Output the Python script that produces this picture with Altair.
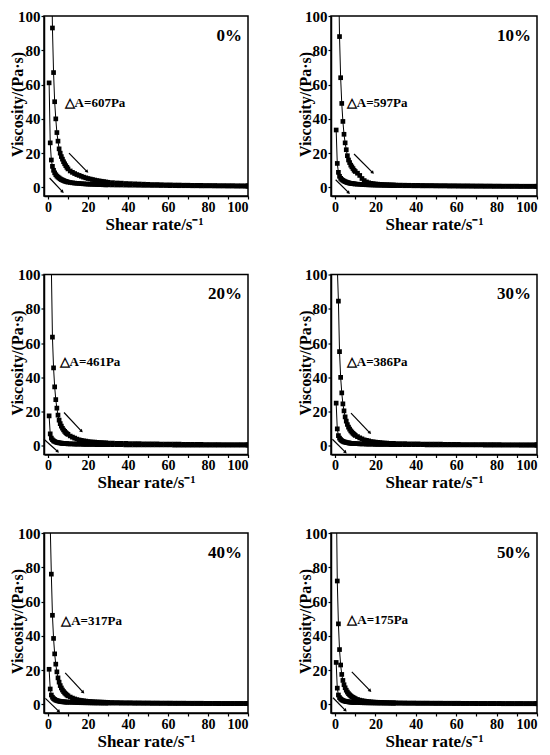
import altair as alt
import pandas as pd

# Shear-rate grid (s^-1) shared by every curve
X = [0.56, 1.11, 1.67, 2.22, 2.78, 3.33, 3.89, 4.44, 5.0, 5.56, 6.11, 6.67, 7.22, 7.78, 8.33, 8.89, 9.44, 10.0,
     11.11, 12.22, 13.33, 14.44, 15.56, 16.67, 17.78, 18.89, 20.0, 21.11, 22.22, 23.33, 24.44, 25.56, 26.67, 27.78, 28.89, 30.0,
     32.22, 34.44, 36.67, 38.89, 41.11, 43.33, 45.56, 47.78, 50.0, 52.22, 54.44, 56.67, 58.89, 61.11, 63.33, 65.56,
     67.78, 70.0, 72.22, 74.44, 76.67, 78.89, 81.11, 83.33, 85.56, 87.78, 90.0, 92.22, 94.44, 96.67, 98.89, 100.0]

UP_0 = [400, 250, 140, 93, 67, 50, 40, 32, 27, 22.5, 20, 18, 16.5, 15, 13.8, 12.7, 11.7, 10.8,
        9.6, 8.8, 8.1, 7.5, 7.0, 6.5, 6.0, 5.6, 5.2, 4.9, 4.6, 4.3, 4.0, 3.8, 3.6, 3.4, 3.2, 3.0,
        2.8, 2.6, 2.5, 2.3, 2.2, 2.1, 2.0, 1.9, 1.8, 1.7, 1.7, 1.6, 1.5, 1.5, 1.4, 1.4, 1.3, 1.3, 1.2, 1.2,
        1.2, 1.1, 1.1, 1.1, 1.0, 1.0, 1.0, 1.0, 0.9, 0.9, 0.9, 0.9]
DN_0 = [61, 26, 16, 12.3, 10, 8.5, 7.4, 6.6, 6.0, 5.5, 5.0, 4.6, 4.3, 4.0, 3.7, 3.5, 3.3, 3.1,
        2.9, 2.7, 2.5, 2.4, 2.3, 2.2, 2.1, 2.0, 1.9, 1.85, 1.8, 1.75, 1.7, 1.65, 1.6, 1.55, 1.5, 1.5,
        1.45, 1.4, 1.4, 1.35, 1.3, 1.3, 1.25, 1.2, 1.2, 1.15, 1.15, 1.1, 1.1, 1.05, 1.05, 1.0, 1.0, 1.0, 0.95, 0.95,
        0.9, 0.9, 0.9, 0.85, 0.85, 0.85, 0.8, 0.8, 0.8, 0.8, 0.75, 0.75]

UP_10 = [400, 250, 130, 88, 64, 49, 38.5, 31, 26, 22, 18.5, 16, 14.5, 13, 12, 11, 10, 9.3,
         8.3, 7.0, 5.2, 4.0, 3.2, 2.7, 2.4, 2.2, 2.0, 1.9, 1.8, 1.7, 1.65, 1.6, 1.55, 1.5, 1.45, 1.4,
         1.35, 1.3, 1.25, 1.2, 1.2, 1.15, 1.1, 1.1, 1.05, 1.0, 1.0, 0.95, 0.95, 0.9, 0.9, 0.9, 0.85, 0.85, 0.85, 0.8,
         0.8, 0.8, 0.8, 0.75, 0.75, 0.75, 0.75, 0.7, 0.7, 0.7, 0.7, 0.7]
DN_10 = [33.5, 14, 8.8, 6.5, 5.3, 4.6, 4.1, 3.7, 3.4, 3.1, 2.9, 2.7, 2.5, 2.4, 2.3, 2.2, 2.1, 2.0,
         1.9, 1.8, 1.7, 1.6, 1.55, 1.5, 1.45, 1.4, 1.35, 1.3, 1.3, 1.25, 1.2, 1.2, 1.15, 1.1, 1.1, 1.05,
         1.05, 1.0, 1.0, 0.95, 0.95, 0.9, 0.9, 0.9, 0.85, 0.85, 0.85, 0.8, 0.8, 0.8, 0.75, 0.75, 0.75, 0.7, 0.7, 0.7,
         0.7, 0.65, 0.65, 0.65, 0.65, 0.6, 0.6, 0.6, 0.6, 0.6, 0.6, 0.6]

UP_20 = [500, 250, 105, 63.5, 45.5, 34.5, 27, 22, 18, 15, 13, 11.5, 10.3, 9.3, 8.5, 7.8, 7.2, 6.7,
         5.8, 5.1, 4.5, 4.0, 3.6, 3.3, 3.0, 2.8, 2.6, 2.4, 2.3, 2.2, 2.1, 2.0, 1.9, 1.8, 1.75, 1.7,
         1.6, 1.55, 1.5, 1.45, 1.4, 1.35, 1.3, 1.25, 1.2, 1.2, 1.15, 1.1, 1.1, 1.05, 1.0, 1.0, 0.95, 0.95, 0.9, 0.9,
         0.9, 0.85, 0.85, 0.85, 0.8, 0.8, 0.8, 0.75, 0.75, 0.75, 0.75, 0.7]
DN_20 = [17.5, 7, 4.6, 3.6, 3.0, 2.6, 2.3, 2.1, 1.95, 1.8, 1.7, 1.6, 1.5, 1.45, 1.4, 1.35, 1.3, 1.25,
         1.2, 1.15, 1.1, 1.05, 1.0, 1.0, 0.95, 0.95, 0.9, 0.9, 0.85, 0.85, 0.8, 0.8, 0.8, 0.75, 0.75, 0.75,
         0.7, 0.7, 0.7, 0.65, 0.65, 0.65, 0.6, 0.6, 0.6, 0.6, 0.55, 0.55, 0.55, 0.55, 0.5, 0.5, 0.5, 0.5, 0.5, 0.45,
         0.45, 0.45, 0.45, 0.45, 0.45, 0.4, 0.4, 0.4, 0.4, 0.4, 0.4, 0.4]

UP_30 = [300, 105, 84.5, 55, 40, 31, 24.5, 20.5, 17, 14.5, 12.5, 11, 9.8, 8.8, 8.0, 7.3, 6.7, 6.2,
         5.4, 4.7, 4.1, 3.6, 3.2, 2.9, 2.6, 2.4, 2.2, 2.05, 1.9, 1.8, 1.7, 1.6, 1.55, 1.5, 1.45, 1.4,
         1.35, 1.3, 1.25, 1.2, 1.15, 1.1, 1.1, 1.05, 1.0, 1.0, 0.95, 0.95, 0.9, 0.9, 0.85, 0.85, 0.85, 0.8, 0.8, 0.8,
         0.75, 0.75, 0.75, 0.7, 0.7, 0.7, 0.7, 0.65, 0.65, 0.65, 0.65, 0.65]
DN_30 = [25, 10, 6, 4.5, 3.7, 3.1, 2.7, 2.4, 2.2, 2.0, 1.85, 1.75, 1.65, 1.55, 1.5, 1.45, 1.4, 1.35,
         1.3, 1.25, 1.2, 1.15, 1.1, 1.05, 1.0, 1.0, 0.95, 0.95, 0.9, 0.9, 0.85, 0.85, 0.85, 0.8, 0.8, 0.8,
         0.75, 0.75, 0.75, 0.7, 0.7, 0.7, 0.65, 0.65, 0.65, 0.65, 0.6, 0.6, 0.6, 0.6, 0.55, 0.55, 0.55, 0.55, 0.55, 0.5,
         0.5, 0.5, 0.5, 0.5, 0.5, 0.45, 0.45, 0.45, 0.45, 0.45, 0.45, 0.45]

UP_40 = [300, 105, 76, 52, 38.5, 29.5, 23.5, 19, 15.5, 13, 11, 9.6, 8.4, 7.5, 6.7, 6.1, 5.5, 5.0,
         4.3, 3.7, 3.2, 2.8, 2.5, 2.3, 2.1, 1.95, 1.8, 1.7, 1.6, 1.5, 1.45, 1.4, 1.35, 1.3, 1.25, 1.2,
         1.15, 1.1, 1.05, 1.0, 1.0, 0.95, 0.95, 0.9, 0.9, 0.85, 0.85, 0.8, 0.8, 0.8, 0.75, 0.75, 0.75, 0.7, 0.7, 0.7,
         0.7, 0.65, 0.65, 0.65, 0.65, 0.6, 0.6, 0.6, 0.6, 0.6, 0.6, 0.6]
DN_40 = [20.5, 9, 5.5, 4.2, 3.4, 2.9, 2.5, 2.25, 2.05, 1.9, 1.75, 1.65, 1.55, 1.5, 1.45, 1.4, 1.35, 1.3,
         1.25, 1.2, 1.15, 1.1, 1.05, 1.0, 1.0, 0.95, 0.95, 0.9, 0.9, 0.85, 0.85, 0.85, 0.8, 0.8, 0.8, 0.75,
         0.75, 0.75, 0.7, 0.7, 0.7, 0.65, 0.65, 0.65, 0.65, 0.6, 0.6, 0.6, 0.6, 0.55, 0.55, 0.55, 0.55, 0.55, 0.5, 0.5,
         0.5, 0.5, 0.5, 0.5, 0.45, 0.45, 0.45, 0.45, 0.45, 0.45, 0.45, 0.45]

UP_50 = [130, 72, 47, 32, 23, 17.5, 14, 11.5, 9.7, 8.3, 7.2, 6.3, 5.6, 5.0, 4.5, 4.1, 3.7, 3.4,
         2.9, 2.5, 2.2, 2.0, 1.8, 1.65, 1.5, 1.4, 1.3, 1.25, 1.2, 1.15, 1.1, 1.05, 1.0, 1.0, 0.95, 0.95,
         0.9, 0.9, 0.85, 0.85, 0.8, 0.8, 0.8, 0.75, 0.75, 0.75, 0.7, 0.7, 0.7, 0.7, 0.65, 0.65, 0.65, 0.65, 0.6, 0.6,
         0.6, 0.6, 0.6, 0.55, 0.55, 0.55, 0.55, 0.55, 0.5, 0.5, 0.5, 0.5]
DN_50 = [24.5, 9.5, 5.5, 4.0, 3.2, 2.7, 2.3, 2.05, 1.85, 1.7, 1.6, 1.5, 1.4, 1.35, 1.3, 1.25, 1.2, 1.15,
         1.1, 1.05, 1.0, 0.95, 0.95, 0.9, 0.9, 0.85, 0.85, 0.8, 0.8, 0.8, 0.75, 0.75, 0.75, 0.7, 0.7, 0.7,
         0.7, 0.65, 0.65, 0.65, 0.6, 0.6, 0.6, 0.6, 0.55, 0.55, 0.55, 0.55, 0.5, 0.5, 0.5, 0.5, 0.5, 0.45, 0.45, 0.45,
         0.45, 0.45, 0.45, 0.4, 0.4, 0.4, 0.4, 0.4, 0.4, 0.4, 0.4, 0.4]

PANEL_LABELS = ["0%", "10%", "20%", "30%", "40%", "50%"]
DELTA_A = ["△A=607Pa", "△A=597Pa", "△A=461Pa", "△A=386Pa", "△A=317Pa", "△A=175Pa"]
UPS = [UP_0, UP_10, UP_20, UP_30, UP_40, UP_50]
DNS = [DN_0, DN_10, DN_20, DN_30, DN_40, DN_50]

# annotation anchors in data units
NOTE_X = [8.3, 5.8, 5.8, 5.8, 6.6, 6.1]
NOTE_Y = [49.3, 49.4, 48.8, 48.8, 48.5, 49.0]
# arrows: (x start, y start, x end, y end) in data units
ARROW_UP = [(10.5, 20, 19.4, 9.4), (9.4, 19.5, 18.5, 8.8), (8.0, 19.5, 16.6, 8.8),
            (7.9, 19.1, 17.1, 7.8), (8.6, 18.4, 17.4, 7.3), (8.3, 19, 17.2, 8.2)]
ARROW_DN = [(0.8, 5.5, 7.1, -2.3), (0.3, 4.5, 6.6, -2.9), (-2, 3.9, 4.7, -3.1),
            (-1.3, 3.9, 5.0, -3.5), (-1.3, 3.5, 5.3, -3.9), (-1, 3.9, 5.0, -3.3)]

X_TICKS = [0, 10, 20, 30, 40, 50, 60, 70, 80, 90, 100]
Y_TICKS = [0, 20, 40, 60, 80, 100]
X_TITLE = "Shear rate/s⁻¹"
Y_TITLE = "Viscosity/(Pa·s)"

FONT = "Liberation Serif"


def panel(k, width, right_col):
    rows = []
    for branch, ys in (("up", UPS[k]), ("down", DNS[k])):
        for x, y in zip(X, ys):
            rows.append({"rate": x, "visc": y, "branch": branch})
    df = pd.DataFrame(rows)

    xsc = alt.Scale(domain=[-2, 100], nice=False, zero=False)
    ysc = alt.Scale(domain=[-5, 100], nice=False, zero=False)
    xkw = dict(values=X_TICKS, labelExpr="datum.value % 20 == 0 ? datum.label : ''",
               title=X_TITLE, titleFontSize=17, labelFontSize=14, labelPadding=1, titlePadding=2)
    if right_col:
        xkw["labelFlush"] = 1
    if k == 0:
        xkw["titleX"] = 110
    xax = alt.Axis(**xkw)
    yax = alt.Axis(values=Y_TICKS, title=Y_TITLE, titleFontSize=16, titleAngle=270,
                   titleX=-26 if right_col else -27, titleY=88, titleAlign="center",
                   titleBaseline="middle", labelPadding=1)

    def enc(ch):
        return ch.encode(x=alt.X("rate:Q", scale=xsc, axis=xax),
                         y=alt.Y("visc:Q", scale=ysc, axis=yax))

    line = enc(alt.Chart(df).mark_line(color="black", strokeWidth=1, clip=True)).encode(detail="branch:N")
    pts = enc(alt.Chart(df).mark_square(size=22, color="black", filled=True, opacity=1, clip=True))

    arr = pd.DataFrame([
        {"rate": a[0], "visc": a[1], "rate2": a[2], "visc2": a[3]} for a in (ARROW_UP[k], ARROW_DN[k])
    ])
    rules = enc(alt.Chart(arr).mark_rule(color="black", strokeWidth=1.2)).encode(
        x2="rate2:Q", y2="visc2:Q")
    heads_df = pd.DataFrame([{"rate": a[2], "visc": a[3]} for a in (ARROW_UP[k], ARROW_DN[k])])
    heads = enc(alt.Chart(heads_df).mark_point(shape="triangle", angle=135, size=14,
                                               filled=True, color="black", opacity=1))

    lab_df = pd.DataFrame([{"rate": 97, "visc": 88.5, "t": PANEL_LABELS[k]}])
    lab = enc(alt.Chart(lab_df).mark_text(align="right", baseline="middle", font=FONT,
                                         fontSize=17, fontWeight="bold", color="black")).encode(text="t:N")
    note_df = pd.DataFrame([{"rate": NOTE_X[k], "visc": NOTE_Y[k], "t": DELTA_A[k]}])
    note = enc(alt.Chart(note_df).mark_text(align="left", baseline="middle", font=FONT,
                                           fontSize=13, fontWeight="bold", color="black")).encode(text="t:N")

    return alt.layer(line, pts, rules, heads, lab, note).properties(width=width, height=180)


rows = []
for r in range(3):
    left = panel(2 * r, 204, False)
    right = panel(2 * r + 1, 206, True)
    rows.append(alt.hconcat(left, right, spacing=83, bounds="flush"))

chart = alt.vconcat(*rows, spacing=33.5).properties(
    padding={"left": 0, "top": 0, "right": 0, "bottom": 0},
    background="white",
).configure_view(
    stroke="black", strokeWidth=1.5
).configure_axis(
    labelFont=FONT, labelFontSize=15, labelFontWeight="bold", labelColor="black",
    titleFont=FONT, titleFontWeight="bold", titleColor="black",
    domainColor="black", domainWidth=1.5, tickColor="black", tickWidth=1.2, tickSize=3,
    grid=False,
)

chart.save("out.html", embed_options={"renderer": "svg", "actions": False})
